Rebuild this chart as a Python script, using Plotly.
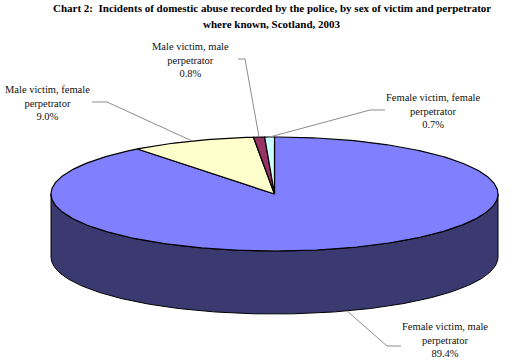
import numpy as np
import plotly.graph_objects as go

# ---- data ----
categories = ["Female victim, male perpetrator",
              "Male victim, female perpetrator",
              "Male victim, male perpetrator",
              "Female victim, female perpetrator"]
shares = [89.4, 9.0, 0.8, 0.7]
title_lines = ["Chart 2:\u00a0 Incidents of domestic abuse recorded by the police, by sex of victim and perpetrator",
               "where known, Scotland, 2003"]

# ---- style / layout ----
top_colors = ["#8080FF", "#FFFFCC", "#993366", "#CCFFFF"]
side_colors = ["#3a3a70", "#808066", "#4d1a33", "#668080"]
CX, CY, RX, RY, DEPTH = 274.5, 194.0, 223.5, 57.0, 63.0
W, H = 520, 361
FONT = "Liberation Serif, Times New Roman, serif"

# label placement (centre of label, leader start, leader elbow)
label_pos = [
    dict(c=(445, 340), s=(401, 346), e=(387, 346)),
    dict(c=(47, 103), s=(92, 102), e=(107, 102)),
    dict(c=(190, 60), s=(238, 59), e=(245, 59)),
    dict(c=(433, 111), s=(385, 110), e=(370, 110)),
]

total = sum(shares)
fracs = np.array(shares) / total
starts = np.concatenate([[0], np.cumsum(fracs)[:-1]]) * 2 * np.pi
ends = np.cumsum(fracs) * 2 * np.pi


def pt(t, dy=0.0):
    return CX + RX * np.sin(t), CY - RY * np.cos(t) + dy


fig = go.Figure()

# side walls (front half only: t in [pi/2, 3pi/2])
for i in range(len(shares)):
    a = max(starts[i], np.pi / 2)
    b = min(ends[i], 3 * np.pi / 2)
    if b <= a:
        continue
    t = np.linspace(a, b, 200)
    xt, yt = pt(t)
    xb, yb = pt(t[::-1], DEPTH)
    fig.add_trace(go.Scatter(
        x=np.concatenate([xt, xb, xt[:1]]), y=np.concatenate([yt, yb, yt[:1]]),
        mode="lines", fill="toself", fillcolor=side_colors[i],
        line=dict(color="#000000", width=1), hoverinfo="skip", showlegend=False))

# top face slices
for i in range(len(shares)):
    n = max(int(400 * fracs[i]), 4)
    t = np.linspace(starts[i], ends[i], n)
    xs, ys = pt(t)
    fig.add_trace(go.Scatter(
        x=np.concatenate([[CX], xs, [CX]]), y=np.concatenate([[CY], ys, [CY]]),
        mode="lines", fill="toself", fillcolor=top_colors[i],
        line=dict(color="#000000", width=1.2), hoverinfo="skip", showlegend=False))

# leader lines and labels
annotations = []
for i, cat in enumerate(categories):
    mid = (starts[i] + ends[i]) / 2
    front = np.pi / 2 < mid < 3 * np.pi / 2
    ex, ey = pt(mid, DEPTH if front else 0.0)
    lp = label_pos[i]
    fig.add_trace(go.Scatter(
        x=[lp["s"][0], lp["e"][0], ex], y=[lp["s"][1], lp["e"][1], ey],
        mode="lines", line=dict(color="#8c8c8c", width=1),
        hoverinfo="skip", showlegend=False))
    text = cat.replace(" perpetrator", "<br>perpetrator") + f"<br>{shares[i]:.1f}%"
    annotations.append(dict(x=lp["c"][0], y=lp["c"][1], xref="x", yref="y",
                            text=text, showarrow=False, xanchor="center", yanchor="middle",
                            font=dict(family=FONT, size=10.5, color="#111111")))

for k, (line, y) in enumerate(zip(title_lines, [8, 24])):
    annotations.append(dict(x=272, y=y, xref="x", yref="y", text=f"<b>{line}</b>",
                            showarrow=False, xanchor="center", yanchor="middle",
                            font=dict(family=FONT, size=11, color="#000000")))

fig.update_layout(
    width=W, height=H, margin=dict(l=0, r=0, t=0, b=0),
    paper_bgcolor="white", plot_bgcolor="white",
    xaxis=dict(range=[0, W], visible=False, fixedrange=True),
    yaxis=dict(range=[H, 0], visible=False, fixedrange=True),
    annotations=annotations,
)

fig.write_html("out.html", config={"displayModeBar": False},
               post_script="document.body.style.margin='0px';document.body.style.overflow='hidden';")
